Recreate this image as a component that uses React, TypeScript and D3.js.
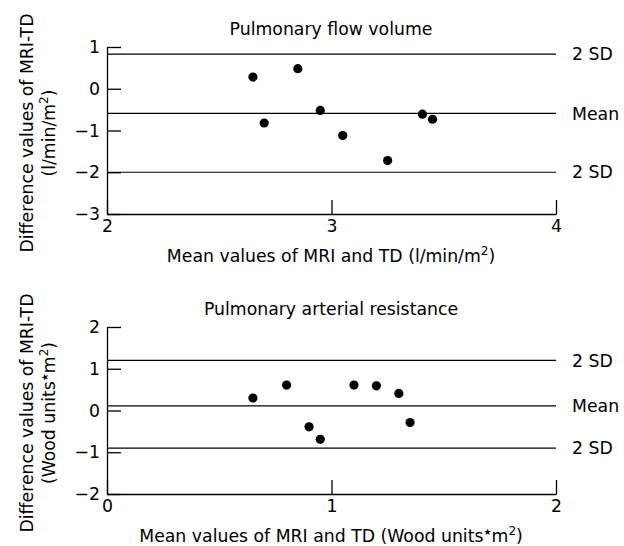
import React, { useEffect, useRef } from 'react';
import * as d3 from 'd3';

// top panel: pulmonary flow volume
const flowMean = [2.65, 2.7, 2.85, 2.95, 3.05, 3.25, 3.405, 3.45];
const flowDiff = [0.28, -0.82, 0.48, -0.52, -1.12, -1.72, -0.61, -0.73];
const flowLines = [0.83, -0.59, -2.0];
const flowXTicks = [2, 3, 4];
const flowYTicks = [1, 0, -1, -2, -3];

// bottom panel: pulmonary arterial resistance
const resMean = [0.65, 0.8, 0.9, 0.95, 1.1, 1.2, 1.3, 1.35];
const resDiff = [0.3, 0.61, -0.39, -0.69, 0.61, 0.59, 0.41, -0.29];
const resLines = [1.2, 0.11, -0.9];
const resXTicks = [0, 1, 2];
const resYTicks = [2, 1, 0, -1, -2];

const lineLabels = ['2 SD', 'Mean', '2 SD'];

const FONT = '"DejaVu Sans", sans-serif';
const FS = 17.3;

const drawPanel = (svg, cfg) => {
  const g = svg.append('g');
  const x = d3.scaleLinear().domain(cfg.xDomain).range([107, 556]);
  const y = d3.scaleLinear().domain(cfg.yDomain).range([cfg.bottom, cfg.bottom - 167]);

  // title
  g.append('text')
    .attr('x', 331)
    .attr('y', cfg.bottom - 179)
    .attr('text-anchor', 'middle')
    .attr('font-size', FS)
    .text(cfg.title);

  // mean and limits
  g.selectAll('line.ref')
    .data(cfg.lines)
    .enter()
    .append('line')
    .attr('class', 'ref')
    .attr('x1', x(cfg.xDomain[0]))
    .attr('x2', x(cfg.xDomain[1]))
    .attr('y1', (d) => y(d))
    .attr('y2', (d) => y(d))
    .attr('stroke', '#000')
    .attr('stroke-width', 1.1);

  g.selectAll('text.ref')
    .data(cfg.lines)
    .enter()
    .append('text')
    .attr('class', 'ref')
    .attr('x', 572)
    .attr('y', (d) => y(d))
    .attr('dy', '0.36em')
    .attr('font-size', FS)
    .text((d, i) => lineLabels[i]);

  const yAxis = d3
    .axisLeft(y)
    .tickValues(cfg.yTicks)
    .tickFormat(d3.format('d'))
    .tickSizeInner(-14)
    .tickSizeOuter(0)
    .tickPadding(7);
  const ya = g.append('g').attr('transform', `translate(${x(cfg.xDomain[0])},0)`).call(yAxis);

  const xAxis = d3
    .axisBottom(x)
    .tickValues(cfg.xTicks)
    .tickFormat(d3.format('d'))
    .tickSizeInner(-14)
    .tickSizeOuter(0)
    .tickPadding(6);
  const xa = g.append('g').attr('transform', `translate(0,${cfg.bottom})`).call(xAxis);

  [ya, xa].forEach((a) => {
    a.selectAll('path, line').attr('stroke', '#000').attr('stroke-width', 1.3);
    a.selectAll('text').attr('font-family', FONT).attr('font-size', FS).attr('fill', '#000');
  });

  // points
  g.selectAll('circle')
    .data(cfg.xs)
    .enter()
    .append('circle')
    .attr('cx', (d) => x(d))
    .attr('cy', (d, i) => y(cfg.ys[i]))
    .attr('r', 4.6)
    .attr('fill', '#000');

  // x label
  const xl = g
    .append('text')
    .attr('x', 331)
    .attr('y', cfg.bottom + 48)
    .attr('text-anchor', 'middle')
    .attr('font-size', FS);
  cfg.xLabel(xl);

  // y label, two lines
  const cy = cfg.bottom - 81;
  g.append('text')
    .attr('transform', `translate(33,${cy}) rotate(-90)`)
    .attr('text-anchor', 'middle')
    .attr('font-size', FS)
    .text('Difference values of MRI-TD');
  const yl = g
    .append('text')
    .attr('transform', `translate(55,${cy}) rotate(-90)`)
    .attr('text-anchor', 'middle')
    .attr('font-size', FS);
  cfg.yUnit(yl);
};

const sup = (t, s) => {
  t.append('tspan').attr('font-size', 12).attr('dy', -7).text(s);
  return t.append('tspan').attr('dy', 7);
};

const star = (t) => {
  t.append('tspan').attr('font-size', 9).attr('dy', -7).text('★');
  return t.append('tspan').attr('dy', 7);
};

const App = () => {
  const svgRef = useRef();

  useEffect(() => {
    const svg = d3.select(svgRef.current);
    svg.selectAll('*').remove();

    drawPanel(svg, {
      title: 'Pulmonary flow volume',
      xDomain: [2, 4],
      yDomain: [-3, 1],
      bottom: 214,
      xTicks: flowXTicks,
      yTicks: flowYTicks,
      lines: flowLines,
      xs: flowMean,
      ys: flowDiff,
      xLabel: (t) => {
        t.append('tspan').text('Mean values of MRI and TD (l/min/m');
        sup(t, '2').text(')');
      },
      yUnit: (t) => {
        t.append('tspan').text('(l/min/m');
        sup(t, '2').text(')');
      },
    });

    drawPanel(svg, {
      title: 'Pulmonary arterial resistance',
      xDomain: [0, 2],
      yDomain: [-2, 2],
      bottom: 494,
      xTicks: resXTicks,
      yTicks: resYTicks,
      lines: resLines,
      xs: resMean,
      ys: resDiff,
      xLabel: (t) => {
        t.append('tspan').text('Mean values of MRI and TD (Wood units');
        star(t).text('m');
        sup(t, '2').text(')');
      },
      yUnit: (t) => {
        t.append('tspan').text('(Wood units');
        star(t).text('m');
        sup(t, '2').text(')');
      },
    });
  }, []);

  return (
    <svg
      ref={svgRef}
      width={624}
      height={546}
      fontFamily={FONT}
      style={{ position: 'absolute', left: 0, top: 0, background: '#fff' }}
    ></svg>
  );
};

export default App;
